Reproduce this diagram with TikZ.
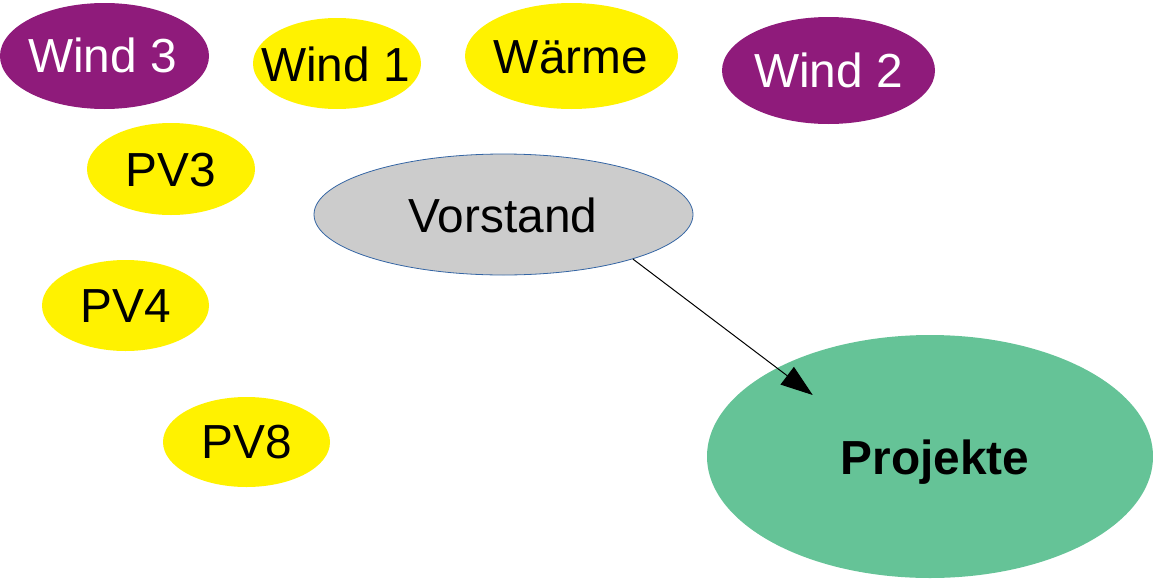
\documentclass[tikz,border=0pt]{standalone}
\usepackage{fontspec}
\setmainfont{Liberation Sans}
\usetikzlibrary{shapes.geometric,arrows.meta}
\definecolor{plum}{RGB}{143,27,123}
\definecolor{sun}{RGB}{255,242,0}
\definecolor{mint}{RGB}{101,195,151}
\definecolor{boardgray}{RGB}{204,204,204}
\definecolor{boardblue}{RGB}{52,101,164}
\tikzset{
  blob/.style={ellipse, inner sep=0pt, draw=none},
  lbl/.style={font=\fontsize{47.8}{57}\selectfont, text height=34.2pt, text depth=0pt, inner sep=0pt},
}
\begin{document}
\begin{tikzpicture}[x=1pt,y=-1pt]
\useasboundingbox (0,0) rectangle (1153,581);
% ellipses
\node[blob, fill=plum, minimum width=209pt, minimum height=106pt] (wind3) at (104.5,56) {};
\node[blob, fill=sun, minimum width=168pt, minimum height=91pt] (wind1) at (337,63.5) {};
\node[blob, fill=sun, minimum width=213pt, minimum height=106pt] (waerme) at (571.5,56) {};
\node[blob, fill=plum, minimum width=213pt, minimum height=107pt] (wind2) at (828.5,70.5) {};
\node[blob, fill=sun, minimum width=168pt, minimum height=92pt] (pv3) at (171,169) {};
\node[blob, fill=sun, minimum width=167pt, minimum height=91pt] (pv4) at (125.5,305.5) {};
\node[blob, fill=sun, minimum width=167pt, minimum height=90pt] (pv8) at (246.5,442) {};
\node[blob, fill=boardgray, draw=boardblue, line width=0.8pt, minimum width=379pt, minimum height=121pt] (vorstand) at (503.5,214.5) {};
\node[blob, fill=mint, minimum width=446pt, minimum height=243pt] (projekte) at (930,456.5) {};
% labels
\node[lbl, text=white] (wind3t) at (102.5,55.5) {Wind 3};
\node[lbl] (wind1t) at (335.5,64.5) {Wind 1};
\node[lbl] (waermet) at (571,56) {Wärme};
\node[lbl, text=white] (wind2t) at (828.5,70.5) {Wind 2};
\node[lbl] (pv3t) at (171,169.5) {PV3};
\node[lbl] (pv4t) at (126,305) {PV4};
\node[lbl] (pv8t) at (246.5,441.5) {PV8};
\node[lbl] (vorstandt) at (503,215.5) {Vorstand};
\node[lbl, font=\fontsize{47.8}{57}\selectfont\bfseries] (projektet) at (935,457.5) {Projekte};
% connector
\coordinate (ptip) at (812.7,395);
\draw[line width=1pt, -{Triangle[length=32pt,width=22pt]}] (vorstand.-19.5) -- (ptip);
\end{tikzpicture}
\end{document}
